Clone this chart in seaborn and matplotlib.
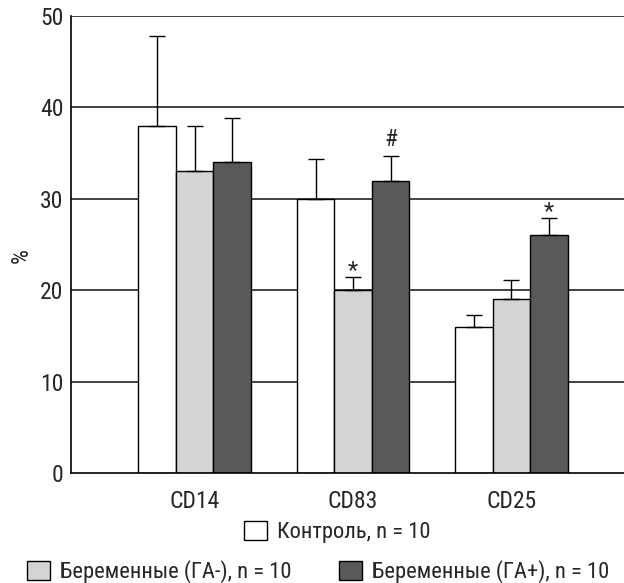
import matplotlib
matplotlib.use("Agg")
import matplotlib.pyplot as plt
import seaborn as sns
import pandas as pd
from matplotlib.patches import Patch

categories = ["CD14", "CD83", "CD25"]
groups = ["Контроль, n = 10", "Беременные (ГА-), n = 10", "Беременные (ГА+), n = 10"]
control = [38, 30, 16]
ga_neg = [33, 20, 19]
ga_pos = [34, 32, 26]
err_control = [9.8, 4.4, 1.3]
err_ga_neg = [5.0, 1.4, 2.1]
err_ga_pos = [4.8, 2.7, 1.9]
marks_ga_neg = ["", "*", ""]
marks_ga_pos = ["", "#", "*"]
yticks = [0, 10, 20, 30, 40, 50]
colors = ["#ffffff", "#d3d4d6", "#58595b"]

sns.set_style("white")
plt.rcParams["font.family"] = ["Roboto Condensed", "DejaVu Sans"]
FS = 17
LFS = 16.2

rows = []
for g, vals in zip(groups, [control, ga_neg, ga_pos]):
    for c, v in zip(categories, vals):
        rows.append({"cat": c, "group": g, "val": v})
df = pd.DataFrame(rows)

W, H = 624, 583
fig = plt.figure(figsize=(W/100, H/100), dpi=100)
ax = fig.add_axes([71/W, 1-473/H, 1-71/W, (473-16)/H])

for y in yticks[1:]:
    ax.axhline(y, color="#222222", lw=1.2, zorder=0)

sns.barplot(data=df, x="cat", y="val", hue="group", order=categories, hue_order=groups,
            palette=dict(zip(groups, colors)), width=0.71, gap=0, errorbar=None,
            edgecolor="black", linewidth=1.0, saturation=1, legend=False, ax=ax, zorder=2)

mark_offset = {"*": 0.0, "#": 1.1}
errs = [err_control, err_ga_neg, err_ga_pos]
marks = [["", "", ""], marks_ga_neg, marks_ga_pos]
for cont, e, mk in zip(ax.containers, errs, marks):
    xs = [b.get_x() + b.get_width()/2 for b in cont]
    hs = [b.get_height() for b in cont]
    ax.errorbar(xs, hs, yerr=[[0]*len(e), e], fmt="none", ecolor="black",
                elinewidth=1.0, capsize=5.6, capthick=1.0, zorder=3)
    for x, h, ee, m in zip(xs, hs, e, mk):
        if m:
            ax.text(x, h + ee + mark_offset[m], m, ha="center", va="baseline",
                    fontsize=FS, zorder=4)

ax.set_ylim(0, 50)
ax.set_xlim(-0.78, 2.71)
ax.set_yticks(yticks)
ax.set_xlabel("")
ax.set_ylabel("%", fontsize=FS, va="center", ha="center")
ax.yaxis.set_label_coords(-50/(W-71), 0.475)
ax.tick_params(axis="y", length=0, pad=5.5, labelsize=FS)
ax.tick_params(axis="x", length=0, pad=12, labelsize=FS)
for s in ["top", "right"]:
    ax.spines[s].set_visible(False)
for s in ["left", "bottom"]:
    ax.spines[s].set_color("black")
    ax.spines[s].set_linewidth(1.2)

handles = [Patch(facecolor=c, edgecolor="black", linewidth=1.0) for c in colors]
positions = [(244, 532), (27, 572), (339, 572)]
for hnd, lab, (px, py) in zip(handles, groups, positions):
    fig.legend([hnd], [lab], loc="center left", bbox_to_anchor=(px/W, 1-py/H),
               frameon=False, fontsize=LFS, handlelength=1.02, handleheight=0.95,
               handletextpad=0.44, borderpad=0, borderaxespad=0)

fig.savefig("out.png", dpi=100)
